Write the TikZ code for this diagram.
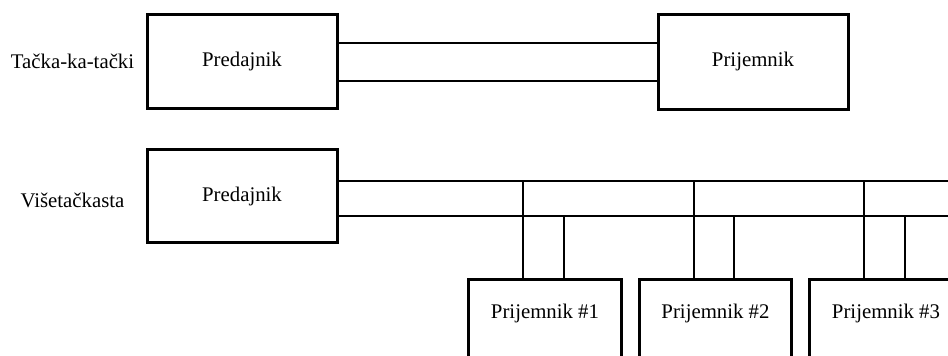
\documentclass[tikz,border=0pt]{standalone}
\usepackage{fontspec}
\setmainfont{Liberation Serif}
\begin{document}
\begin{tikzpicture}[x=0.5pt,y=-0.5pt,
  every node/.style={font=\fontsize{10.4}{12}\selectfont},
  unit/.style={draw, line width=1.5pt, inner sep=0pt, minimum width=95pt, minimum height=47.3pt},
  rxbox/.style={draw, line width=1.5pt, inner sep=0pt, minimum width=76.2pt, minimum height=60pt},
  wire/.style={line width=1.15pt},
  caption/.style={inner sep=0pt}]
\useasboundingbox (0,0) rectangle (948,356);
\clip (0,0) rectangle (948,356);

% point-to-point link
\node[unit] (tx1) at (242,61.7) {Predajnik};
\node[unit] (rx0) at (753,62) {Prijemnik};
\node[caption] (lab1) at (72.5,61) {Tačka-ka-tački};
\coordinate (y1) at (0,43);
\coordinate (y2) at (0,81);
\draw[wire] (tx1.east |- y1) -- (rx0.west |- y1);
\draw[wire] (tx1.east |- y2) -- (rx0.west |- y2);

% multipoint link
\node[unit, minimum height=46.5pt] (tx2) at (242,196.5) {Predajnik};
\node[caption] (lab2) at (72.5,200) {Višetačkasta};
\coordinate (busA) at (948,181);
\coordinate (busB) at (948,216);
\draw[wire] (tx2.east |- busA) -- (busA);
\draw[wire] (tx2.east |- busB) -- (busB);

% receivers hanging off the bus
\node[rxbox] (r1) at (545,340) {};
\node[rxbox] (r2) at (715.5,340) {};
\node[rxbox] (r3) at (886,340) {};
\node[caption] (t1) at (545,314) {Prijemnik \#1};
\node[caption] (t2) at (715.5,314) {Prijemnik \#2};
\node[caption] (t3) at (886,314) {Prijemnik \#3};

\foreach \r/\xa/\xb in {r1/523/564, r2/694/734, r3/864/905}{
  \coordinate (\r a) at (\xa,181);
  \coordinate (\r b) at (\xb,216);
  \draw[wire] (\r.north -| \r a) -- (\r a);
  \draw[wire] (\r.north -| \r b) -- (\r b);
}
\end{tikzpicture}
\end{document}
